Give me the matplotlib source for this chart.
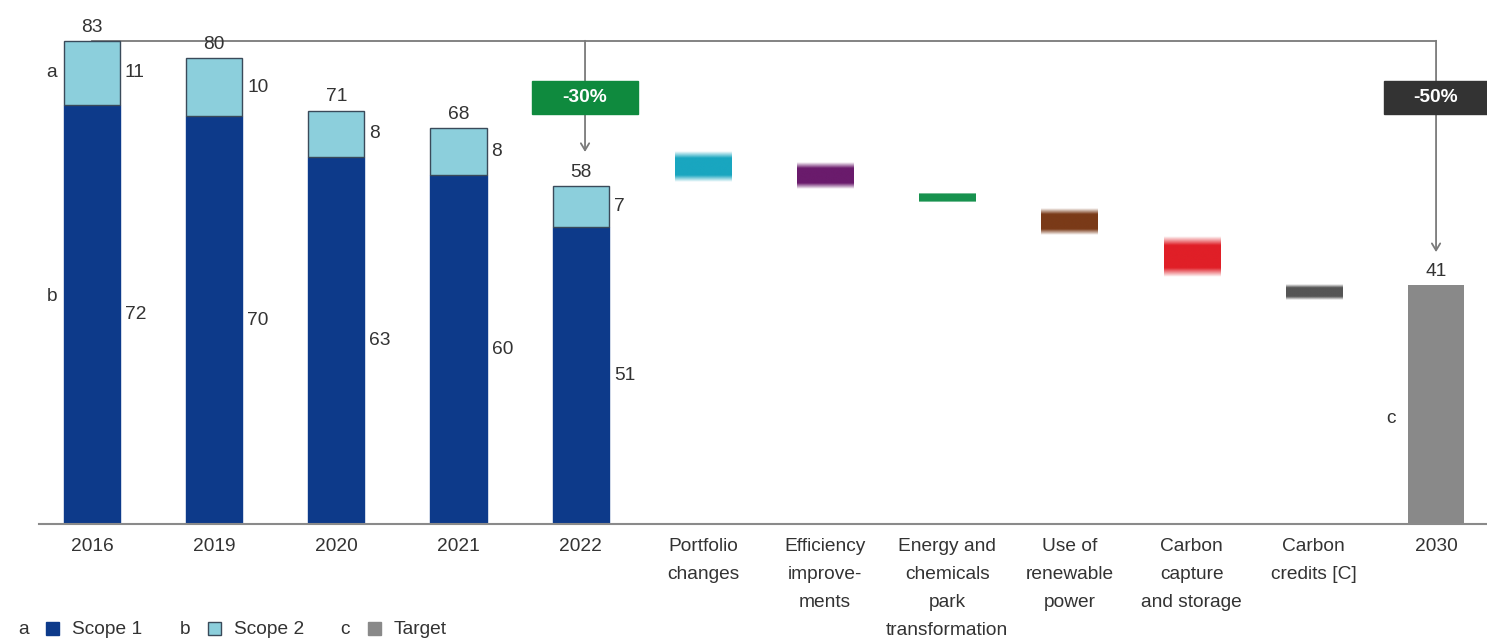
import numpy as np
import matplotlib
matplotlib.use('Agg')
from matplotlib import pyplot as plt
from matplotlib.patches import Rectangle
from matplotlib.colors import to_rgb

plt.rcParams['font.family'] = ['Liberation Sans', 'DejaVu Sans']

# data
years = ['2016', '2019', '2020', '2021', '2022']
scope1 = [72, 70, 63, 60, 51]
scope2 = [11, 10, 8, 8, 7]
totals = [83, 80, 71, 68, 58]

levers = ['Portfolio\nchanges', 'Efficiency\nimprove-\nments',
          'Energy and\nchemicals\npark\ntransformation', 'Use of\nrenewable\npower',
          'Carbon\ncapture\nand storage', 'Carbon\ncredits [C]']
lever_low = [58.8, 57.5, 55.3, 49.7, 42.4, 38.5]
lever_high = [64.0, 62.0, 56.7, 54.3, 49.3, 41.1]
lever_colors = ['#19a6c0', '#6a1b6c', '#17924e', '#7a3a18', '#e01f27', '#555555']

target_label = '2030'
target = 41

c_s1 = '#0d3a8a'
c_s2 = '#8ccfdc'
c_tg = '#898989'
c_txt = '#333333'
c_line = '#7a7a7a'
FS = 13.8

fig = plt.figure(figsize=(14.87, 6.38), dpi=100)
ax = fig.add_axes([0, 114/638, 1, 524/638])
W = 0.46

x_years = np.arange(len(years))
ax.bar(x_years, scope1, W, color=c_s1, edgecolor=c_s1, zorder=3)
ax.bar(x_years, scope2, W, bottom=scope1, color=c_s2, edgecolor='#3a4a5a', lw=1, zorder=3)
for i in range(len(years)):
    ax.text(i, totals[i] + 0.9, str(totals[i]), ha='center', va='bottom', fontsize=FS, color=c_txt)
    ax.text(i + W/2 + 0.04, scope1[i] + scope2[i]/2, str(scope2[i]), ha='left', va='center', fontsize=FS, color=c_txt)
    ax.text(i + W/2 + 0.04, scope1[i]/2, str(scope1[i]), ha='left', va='center', fontsize=FS, color=c_txt)

# fuzzy lever bars
x_lev = np.arange(len(years), len(years) + len(levers))
for x, lo, hi, col in zip(x_lev, lever_low, lever_high, lever_colors):
    n = 100
    t = np.linspace(0, 1, n)
    fade = 0.22 if hi - lo > 2 else 0.08
    a = np.clip(np.minimum(t, 1 - t) / fade, 0, 1)
    img = np.zeros((n, 1, 4))
    img[:, 0, :3] = to_rgb(col)
    img[:, 0, 3] = a
    ax.imshow(img, extent=(x - W/2, x + W/2, lo, hi), aspect='auto', origin='lower',
              interpolation='bilinear', zorder=3)

x_t = len(years) + len(levers)
ax.bar([x_t], [target], W, color=c_tg, zorder=3)
ax.text(x_t, target + 0.9, str(target), ha='center', va='bottom', fontsize=FS, color=c_txt)

# letters
ax.text(-0.33, scope1[0] + scope2[0]/2, 'a', ha='center', va='center', fontsize=FS, color=c_txt)
ax.text(-0.33, 39, 'b', ha='center', va='center', fontsize=FS, color=c_txt)
ax.text(x_t - 0.37, 18.2, 'c', ha='center', va='center', fontsize=FS, color=c_txt)

# bracket and arrows
xa = len(years) - 1 + 0.035
arr = dict(arrowstyle='->,head_length=0.5,head_width=0.3', color=c_line, lw=1.3, shrinkA=0, shrinkB=0)
ax.plot([0, x_t], [totals[0], totals[0]], color=c_line, lw=1.3, zorder=2)
ax.annotate('', xy=(xa, totals[-1] + 5.9), xytext=(xa, totals[0]), arrowprops=arr, zorder=2)
ax.annotate('', xy=(x_t, target + 5.7), xytext=(x_t, totals[0]), arrowprops=arr, zorder=2)

ax.add_patch(Rectangle((xa - 0.435, 70.4), 0.87, 5.7, color='#0f8a3e', zorder=4))
ax.text(xa, 73.25, '-30%', ha='center', va='center', fontsize=FS, color='white', fontweight='bold', zorder=5)
ax.add_patch(Rectangle((x_t - 0.43, 70.4), 0.9, 5.7, color='#333333', zorder=4))
ax.text(x_t, 73.25, '-50%', ha='center', va='center', fontsize=FS, color='white', fontweight='bold', zorder=5)

# axis
ax.plot([-0.43, 11.5], [0, 0], color='#8a8a8a', lw=1.5, zorder=4, clip_on=False)
ax.set_xlim(-0.753, 11.417)
ax.set_ylim(0, 90.0)
for s in ax.spines.values():
    s.set_visible(False)
ax.set_yticks([])
ax.set_xticks(list(x_years) + list(x_lev) + [x_t])
ax.set_xticklabels(years + levers + [target_label], fontsize=FS, color=c_txt, linespacing=1.85, va='top')
ax.tick_params(axis='x', length=0, pad=10)

# legend
items = [('a', c_s1, 'Scope 1', '#0d3a8a'), ('b', c_s2, 'Scope 2', '#3a4a5a'), ('c', c_tg, 'Target', c_tg)]
xs = [18, 180, 340]
for (let, col, lab, ec), x0 in zip(items, xs):
    yb = 638 - 629
    fig.text(x0 / 1487, yb / 638, let, ha='left', va='center', fontsize=FS, color=c_txt)
    fig.patches.append(Rectangle(((x0 + 28) / 1487, (yb - 6) / 638), 13 / 1487, 13 / 638,
                                 facecolor=col, edgecolor=ec, lw=1, transform=fig.transFigure, figure=fig))
    fig.text((x0 + 54) / 1487, yb / 638, lab, ha='left', va='center', fontsize=FS, color=c_txt)

fig.savefig('out.png', dpi=100)
